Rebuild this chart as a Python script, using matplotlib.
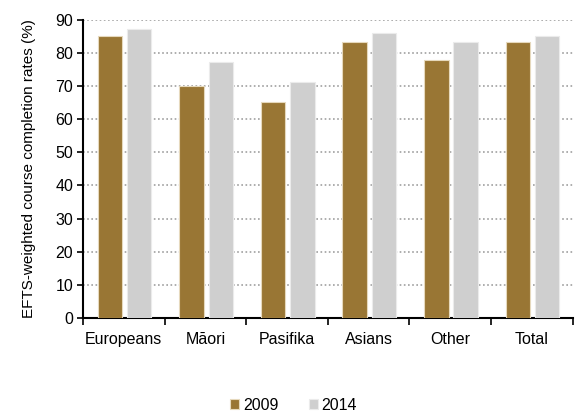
import numpy as np
import matplotlib.pyplot as plt

plt.rcParams['font.family'] = ['Liberation Sans', 'DejaVu Sans']

categories = ['Europeans', 'Māori', 'Pasifika', 'Asians', 'Other', 'Total']
rates_2009 = [85.0, 70.0, 65.3, 83.2, 77.8, 83.2]
rates_2014 = [87.3, 77.2, 71.2, 86.1, 83.2, 85.0]

fig = plt.figure(figsize=(5.76, 4.15), dpi=100)
ax = fig.add_axes([0.144, 0.234, 0.85, 0.718])

x = np.arange(len(categories))
w = 0.3
ax.bar(x - 0.17, rates_2009, w, color='#997634', edgecolor='#e6d9bd', linewidth=0.8, label='2009', zorder=3)
ax.bar(x + 0.19, rates_2014, w, color='#cfcfcf', edgecolor='#ebebeb', linewidth=0.8, label='2014', zorder=3)

ax.set_xlim(-0.5, len(categories) - 0.5)
ax.set_ylim(0, 90)
ax.set_yticks(range(0, 91, 10))
ax.set_xticks(x)
ax.set_xticklabels(categories, fontsize=11.5)
ax.set_xticks(np.arange(-0.5, len(categories), 1), minor=True)
ax.tick_params(axis='x', which='major', length=0, pad=10)
ax.tick_params(axis='x', which='minor', length=5, width=1.2, direction='out')
ax.tick_params(axis='y', labelsize=11.5, length=4, width=1.2, pad=3)
ax.yaxis.grid(True, linestyle=(0, (1, 1.5)), color='#a0a0a0', linewidth=1.2, zorder=0)
ax.spines['top'].set_visible(False)
ax.spines['right'].set_visible(False)
ax.spines['left'].set_linewidth(1.5)
ax.spines['bottom'].set_linewidth(1.5)
ax.set_ylabel('EFTS-weighted course completion rates (%)', fontsize=11, labelpad=14)

fig.legend(loc='center', bbox_to_anchor=(0.51, 0.024), ncol=2, frameon=False,
           fontsize=11.5, handlelength=0.55, handleheight=0.55, handletextpad=0.25, columnspacing=1.9)

fig.savefig('out.png', dpi=100)
